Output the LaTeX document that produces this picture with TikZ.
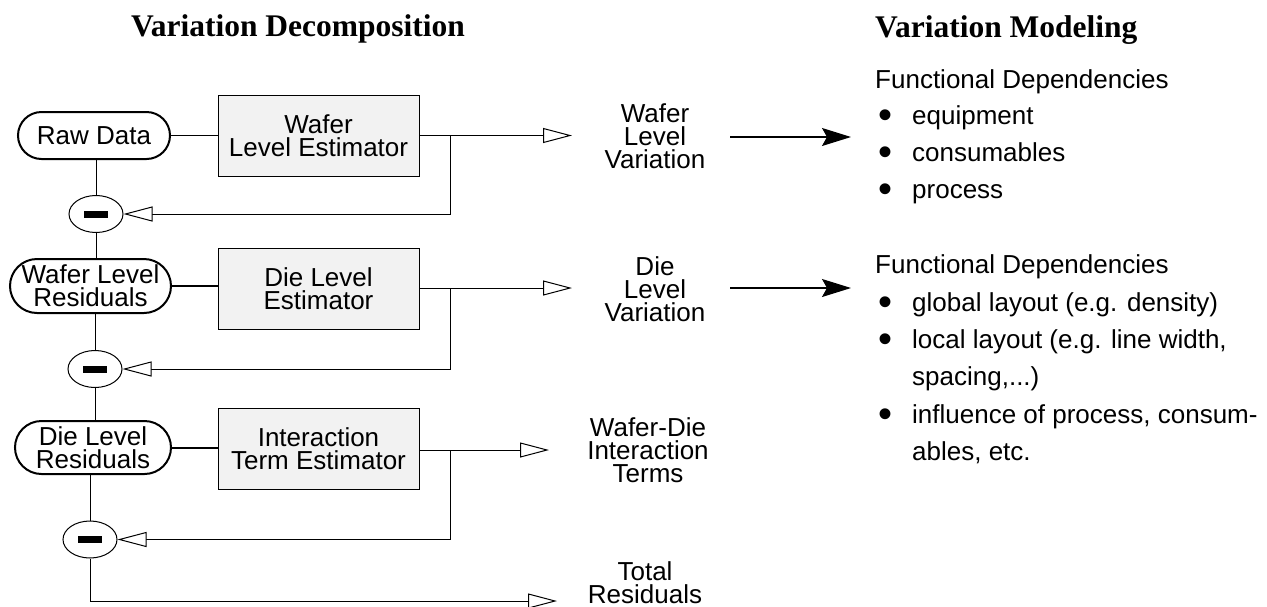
\documentclass[tikz,border=0pt]{standalone}
\usepackage{fontspec}
\setmainfont{Liberation Sans}
\newfontfamily\serifttl{Liberation Serif}
\usetikzlibrary{arrows.meta,shapes.geometric,shapes.misc,calc}
\begin{document}
\begin{tikzpicture}[x=1pt,y=-1pt,
  every node/.style={font=\fontsize{26}{23}\selectfont},
  pill/.style={draw,line width=2pt,rounded rectangle,inner sep=0pt,align=center},
  est/.style={draw,line width=1pt,fill=black!5,minimum width=201pt,minimum height=81pt,inner sep=0pt,align=center},
  minus/.style={draw,ellipse,line width=1pt,minimum width=54pt,minimum height=37pt,inner sep=0pt,fill=white},
  ln/.style={line width=1pt},
  thk/.style={line width=2pt},
  openarr/.style={line width=1pt,-{Triangle[length=29pt,width=15pt,fill=white]}},
  blackarr/.style={line width=1.2pt,-{Stealth[length=29pt,width=18pt,inset=5pt]}},
  outtxt/.style={align=center,anchor=base},
  ttl/.style={font=\serifttl\bfseries\fontsize{31.5}{34}\selectfont},
  lst/.style={anchor=base west,inner sep=0pt},
  bul/.style={anchor=base,inner sep=0pt,font=\fontsize{40}{40}\selectfont}
]
\useasboundingbox (0,0) rectangle (1267,606);

% titles
\node[ttl,anchor=base] (vd) at (298,36) {Variation Decomposition};
\node[ttl,anchor=base west,inner sep=0pt] (vm) at (875,37) {Variation Modeling};

% row 1
\node[pill,minimum width=152pt,minimum height=47pt] (raw) at (94,135.5) {Raw Data};
\node[est] (wle) at (318.5,135.5) {Wafer\\Level Estimator};
\coordinate (j1) at (450,135.5);
\coordinate (t1) at (572,135.5);
\node[minus] (m1) at (96,214) {\rule[-3.5pt]{24pt}{7pt}};

% row 2
\node[pill,minimum width=161pt,minimum height=54pt] (wlr) at (90.5,286) {Wafer Level\\Residuals};
\node[est] (dle) at (318.5,289) {Die Level\\Estimator};
\coordinate (j2) at (450,288);
\coordinate (t2) at (572,288);
\node[minus] (m2) at (95,369) {\rule[-3.5pt]{24pt}{7pt}};

% row 3
\node[pill,minimum width=156pt,minimum height=53pt] (dlr) at (93,447.5) {Die Level\\Residuals};
\node[est] (ite) at (318.5,449) {Interaction\\Term Estimator};
\coordinate (j3) at (450,450);
\coordinate (t3) at (549,450);
\node[minus] (m3) at (90,539.5) {\rule[-3.5pt]{24pt}{7pt}};

% row 4
\coordinate (t4) at (557,601);

% outputs (base = last line)
\node[outtxt] (wlv) at (655,168) {Wafer\\Level\\Variation};
\node[outtxt] (dlv) at (655,321) {Die\\Level\\Variation};
\node[outtxt] (wdi) at (648,482) {Wafer-Die\\Interaction\\Terms};
\node[outtxt] (tr) at (645,603) {Total\\Residuals};

% connectors
\draw[ln] (raw.east) -- (wle.west);
\draw[openarr] (wle.east) -- (t1);
\draw[openarr] (j1) |- (m1.east);
\draw[ln] (m1.north) -- (m1.north |- raw.south);
\draw[ln] (m1.south) -- (m1.south |- wlr.north);

\draw[thk] (wlr.east) -- (dle.west |- wlr.east);
\draw[openarr] (dle.east |- j2) -- (t2);
\draw[openarr] (j2) |- (m2.east);
\draw[ln] (m2.north) -- (m2.north |- wlr.south);
\draw[ln] (m2.south) -- (m2.south |- dlr.north);

\draw[thk] (dlr.east) -- (ite.west |- dlr.east);
\draw[openarr] (ite.east |- j3) -- (t3);
\draw[openarr] (j3) |- (m3.east);
\draw[ln] (m3.north) -- (m3.north |- dlr.south);
\draw[openarr] (m3.south) |- (t4);

% modeling arrows
\coordinate (a1s) at (730,137);
\coordinate (a1e) at (851,137);
\coordinate (a2s) at (730,288);
\coordinate (a2e) at (851,288);
\draw[blackarr] (a1s) -- (a1e);
\draw[blackarr] (a2s) -- (a2e);

% right lists
\node[lst] (fd1) at (875,88) {Functional Dependencies};
\node[bul] (b1) at (885,128) {•};
\node[lst] (l1) at (912,124) {equipment};
\node[bul] (b2) at (885,165) {•};
\node[lst] (l2) at (912,161) {consumables};
\node[bul] (b3) at (885,202) {•};
\node[lst] (l3) at (912,198) {process};

\node[lst] (fd2) at (875,273) {Functional Dependencies};
\node[bul] (b4) at (885,315) {•};
\node[lst] (l4) at (912,311) {global layout (e.g. density)};
\node[bul] (b5) at (885,352) {•};
\node[lst] (l5) at (912,348) {local layout (e.g. line width,};
\node[lst] (l6) at (912,385) {spacing,...)};
\node[bul] (b7) at (885,427) {•};
\node[lst] (l7) at (912,423) {influence of process, consum-};
\node[lst] (l8) at (912,460) {ables, etc.};
\end{tikzpicture}
\end{document}
